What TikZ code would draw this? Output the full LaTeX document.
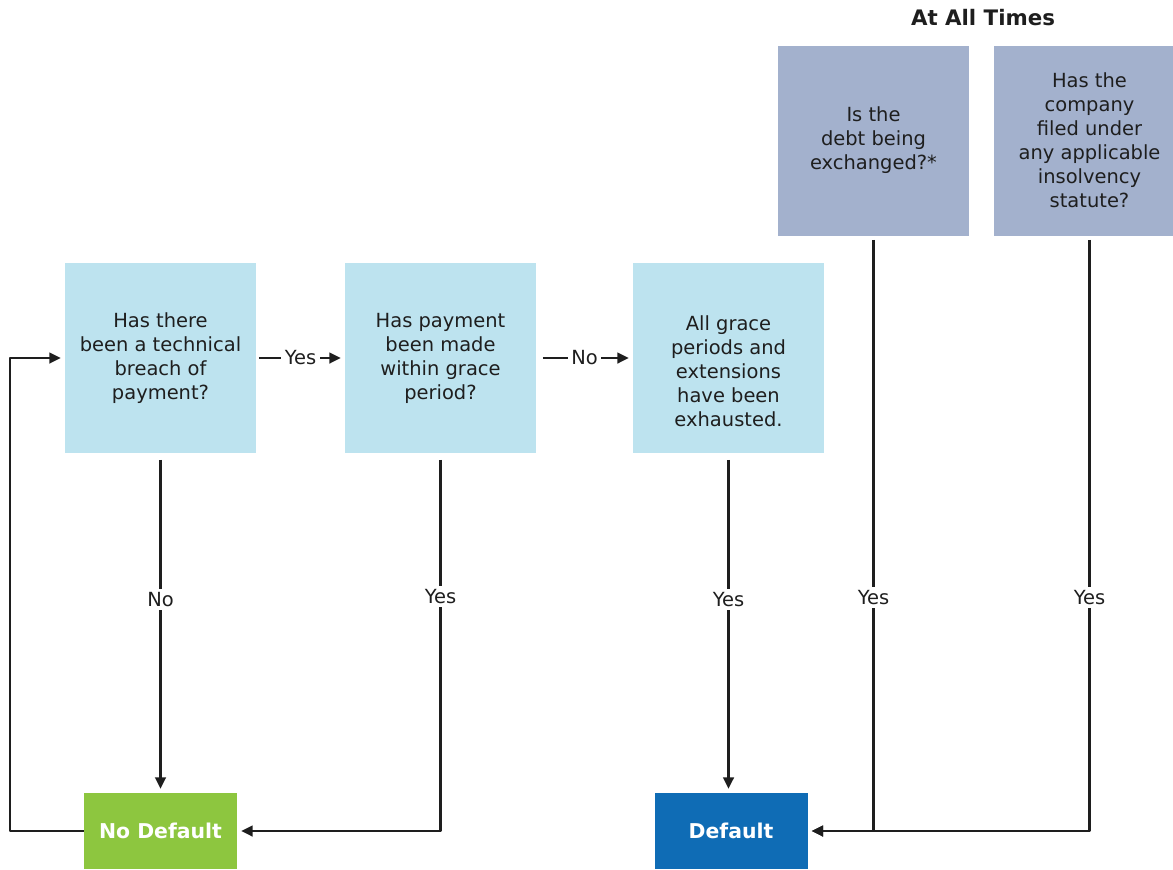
\documentclass[tikz,border=0pt]{standalone}
\usepackage{fontspec}
\setmainfont{DejaVu Sans}
\usetikzlibrary{arrows.meta}
\definecolor{qblue}{HTML}{BDE3EF}
\definecolor{qgray}{HTML}{A3B1CD}
\definecolor{okgreen}{HTML}{8DC63F}
\definecolor{dfblue}{HTML}{0F6CB5}
\definecolor{ink}{HTML}{1E1E1E}
\begin{document}
\begin{tikzpicture}[x=0.75pt, y=-0.75pt, >={Triangle[length=8.5pt,width=8pt]},
		font=\fontsize{14.6pt}{18pt}\selectfont, line join=round,
		qbox/.style={fill=qblue, text=ink, align=center, minimum width=143.25pt, minimum height=142.5pt, inner sep=0pt},
		abox/.style={qbox, fill=qgray},
		endbox/.style={text=white, font=\fontsize{15.3pt}{18pt}\selectfont\bfseries, minimum width=114.75pt, minimum height=57pt, inner sep=0pt},
		conn/.style={->, line width=1.7pt, draw=ink, shorten <=5pt, shorten >=3pt},
		lbl/.style={fill=white, text=ink, inner sep=2.5pt}]
		\clip (0,0) rectangle (1173,869);
		%	\draw[color=gray!50,dashed] (0,0) grid[step=100] (1173,869);
		\node[font=\fontsize{16pt}{18pt}\selectfont\bfseries, text=ink] (times) at (983,18) {At All Times};
		\node[qbox] (breach) at (160.5,358) {Has there\\been a technical\\breach of\\payment?};
		\node[qbox] (grace) at (440.5,358) {Has payment\\been made\\within grace\\period?};
		\node[qbox] (exhaust) at (728.5,358) {\rule{0pt}{31pt}All grace\\periods and\\extensions\\have been\\exhausted.};
		\node[abox] (exch) at (873.5,140.5) {Is the\\debt being\\exchanged?*};
		\node[abox] (insolv) at (1089.5,140.5) {Has the\\company\\filed under\\any applicable\\insolvency\\statute?};
		\node[endbox, fill=okgreen] (nodef) at (160.5,831) {No Default};
		\node[endbox, fill=dfblue] (def) at (731,831) {Default};
		% connectors
		\draw[conn, shorten <=2pt] (breach) -- node[lbl]{Yes} (grace);
		\draw[conn] (grace) -- node[lbl]{No} (exhaust);
		\draw[conn] (breach.south) -- node[lbl, pos=0.43]{No} (nodef.north);
		\draw[conn] (grace.south) |- node[lbl, pos=0.19]{Yes} (nodef.east);
		\draw[conn] (exhaust.south) -- node[lbl, pos=0.43]{Yes} (exhaust.south |- def.north);
		\draw[conn, shorten <=3pt] (exch.south) |- node[lbl, pos=0.304]{Yes} (def.east);
		\draw[conn, shorten <=3pt] (insolv.south) |- node[lbl, pos=0.304]{Yes} (def.east);
		\draw[conn, shorten <=0pt] (nodef.west) -- ++(-74,0) |- (breach.west);
\end{tikzpicture}
\end{document}
